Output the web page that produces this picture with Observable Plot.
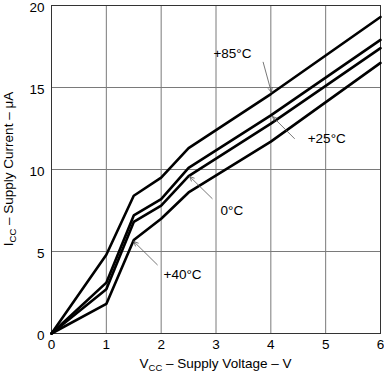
<!DOCTYPE html>
<html>
<head>
<meta charset="utf-8">
<script src="https://cdn.jsdelivr.net/npm/d3@7"></script>
<script src="https://cdn.jsdelivr.net/npm/@observablehq/plot@0.6"></script>
<style>
  html, body { margin: 0; padding: 0; background: #fff; }
  #chart svg { display: block; }
</style>
</head>
<body>
<div id="chart"></div>
<script>
// Supply voltage (V)
const vcc = [0, 1, 1.5, 2, 2.5, 4, 6];
// Supply current (µA) per temperature curve
const icc85 = [0, 4.8, 8.4, 9.5, 11.3, 14.6, 19.3];
const icc25 = [0, 3.1, 7.2, 8.2, 10.1, 13.3, 17.9];
const icc0  = [0, 2.7, 6.8, 7.8, 9.6, 12.8, 17.4];
const icc40 = [0, 1.8, 5.7, 7.0, 8.6, 11.7, 16.5];
const seriesNames = ["+85°C", "+25°C", "0°C", "+40°C"];
const seriesValues = [icc85, icc25, icc0, icc40];

const xTicks = [0, 1, 2, 3, 4, 5, 6];
const yTicks = [0, 5, 10, 15, 20];

// Annotation labels (centre positions) and arrow pointers, in data units
const labelText = ["+85°C", "+25°C", "0°C", "+40°C"];
const labelX = [3.30, 5.02, 3.29, 2.39];
const labelY = [17.05, 11.9, 7.5, 3.6];
const arrowX1 = [3.86, 4.43, 2.93, 1.93];
const arrowY1 = [16.54, 11.89, 8.23, 4.19];
const arrowX2 = [4.01, 4.03, 2.52, 1.50];
const arrowY2 = [14.71, 13.23, 9.57, 5.61];

const rows = [];
seriesNames.forEach((s, i) => vcc.forEach((v, j) => rows.push({series: s, x: v, y: seriesValues[i][j]})));
const labels = labelText.map((t, i) => ({t, x: labelX[i], y: labelY[i]}));
const arrows = labelText.map((t, i) => ({x1: arrowX1[i], y1: arrowY1[i], x2: arrowX2[i], y2: arrowY2[i]}));

const font = "Liberation Sans, Arial, Helvetica, sans-serif";

const plot = Plot.plot({
  width: 384,
  height: 372,
  marginLeft: 51,
  marginRight: 4,
  marginTop: 5,
  marginBottom: 39,
  style: {fontFamily: font, fontSize: "13.5px", color: "#000", background: "#fff", overflow: "visible"},
  x: {domain: [0, 6]},
  y: {domain: [0, 20]},
  marks: [
    Plot.gridX(xTicks, {stroke: "#7a7a7a", strokeOpacity: 1, strokeWidth: 1}),
    Plot.gridY(yTicks, {stroke: "#7a7a7a", strokeOpacity: 1, strokeWidth: 1}),
    Plot.frame({stroke: "#333", strokeWidth: 1}),
    Plot.axisX(xTicks, {tickSize: 0, tickPadding: 6, label: null, fontSize: 13.5}),
    Plot.axisY(yTicks, {tickSize: 0, tickPadding: 7, label: null, fontSize: 13.5, dy: 2}),
    Plot.line(rows, {x: "x", y: "y", z: "series", stroke: "#000", strokeWidth: 2.6, strokeLinejoin: "miter"}),
    Plot.arrow(arrows, {x1: "x1", y1: "y1", x2: "x2", y2: "y2", stroke: "#555", strokeWidth: 0.8, headLength: 9, headAngle: 50}),
    Plot.text(labels, {x: "x", y: "y", text: "t", textAnchor: "middle", fontSize: 13.5, fill: "#000"})
  ]
});

// Axis titles with subscripts
const svg = d3.select(plot);
const xt = svg.append("text")
  .attr("x", 215.5).attr("y", 367.5)
  .attr("text-anchor", "middle")
  .attr("font-family", font).attr("font-size", 13.5).attr("fill", "#000");
xt.append("tspan").text("V");
xt.append("tspan").attr("font-size", 9.5).attr("dy", 3).text("CC");
xt.append("tspan").attr("dy", -3).text(" – Supply Voltage – V");

const yt = svg.append("text")
  .attr("transform", "translate(13,169) rotate(-90)")
  .attr("text-anchor", "middle")
  .attr("font-family", font).attr("font-size", 13.5).attr("fill", "#000");
yt.append("tspan").text("I");
yt.append("tspan").attr("font-size", 9.5).attr("dy", 3).text("CC");
yt.append("tspan").attr("dy", -3).text(" – Supply Current – μA");

document.getElementById("chart").appendChild(plot);
</script>
</body>
</html>
